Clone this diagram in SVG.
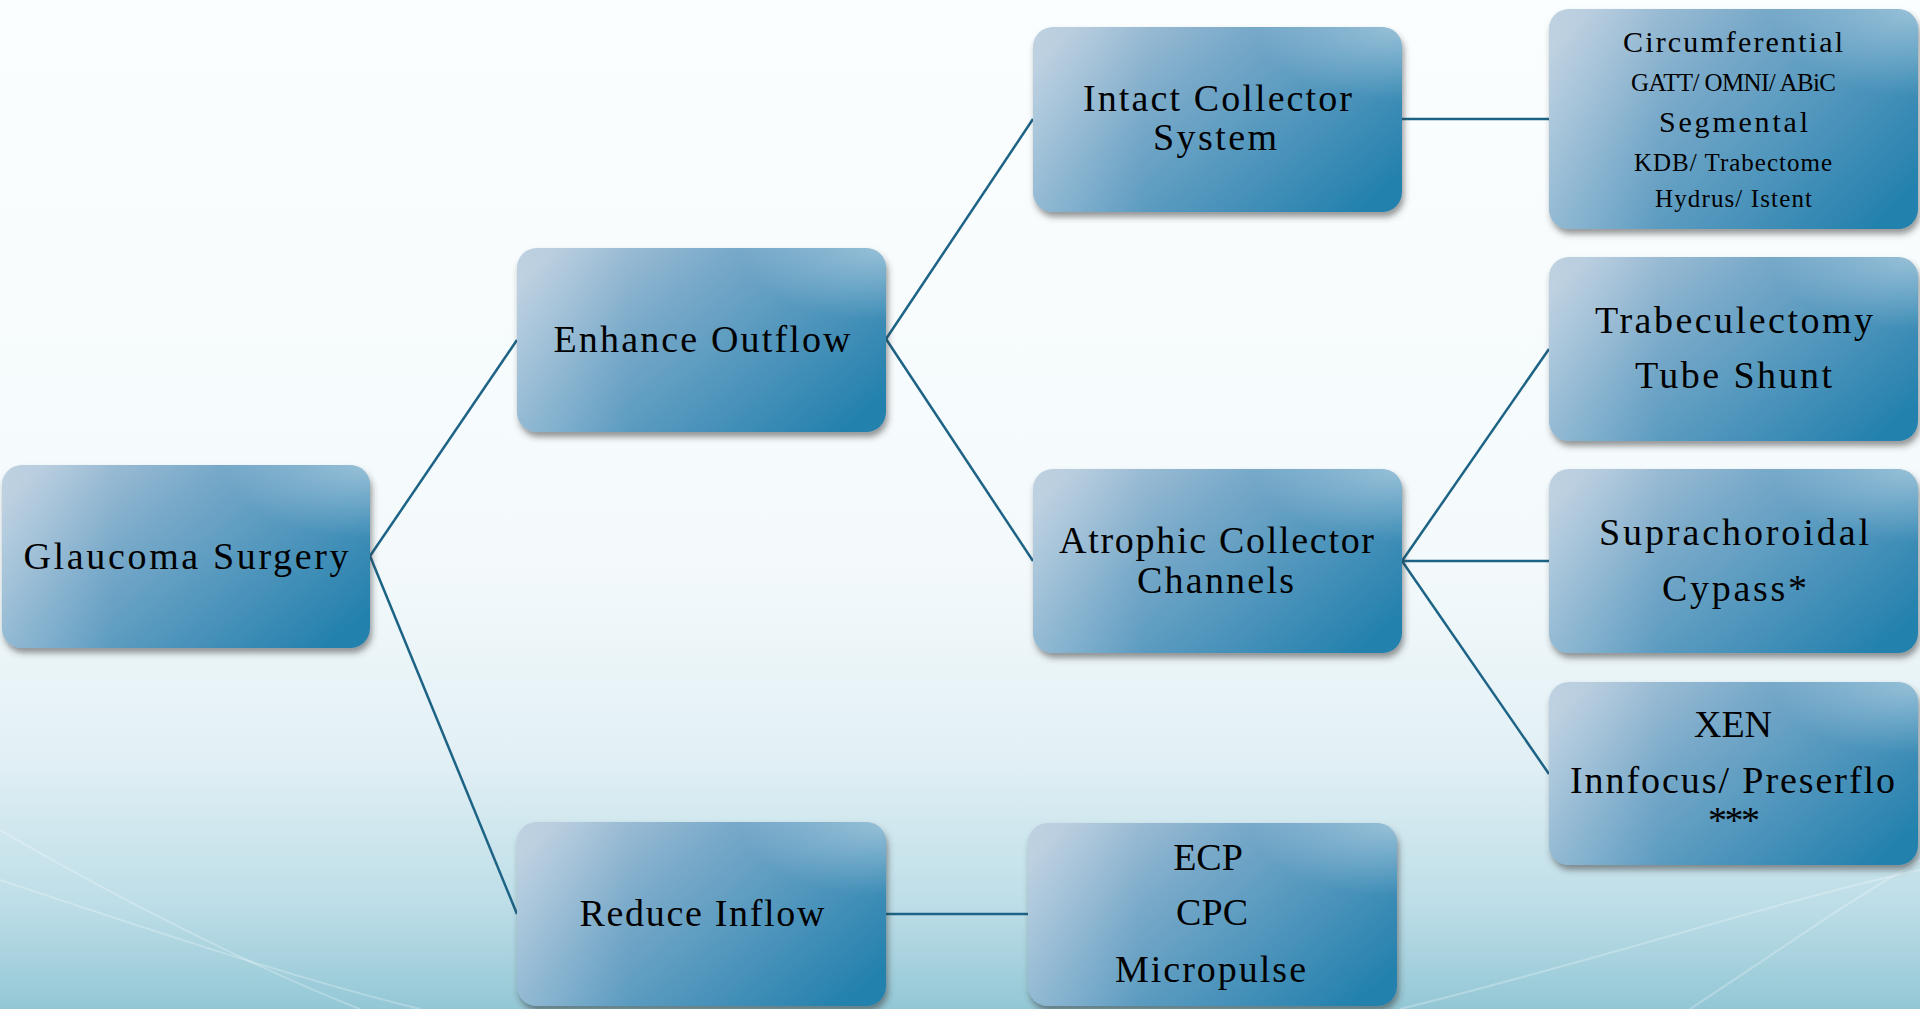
<svg xmlns="http://www.w3.org/2000/svg" width="1920" height="1009" viewBox="0 0 1920 1009">
<defs>
<linearGradient id="bg" x1="0" y1="0" x2="0" y2="1">
<stop offset="0" stop-color="#fbfeff"/>
<stop offset="0.55" stop-color="#f4fafc"/>
<stop offset="0.75" stop-color="#e2f0f5"/>
<stop offset="0.9" stop-color="#bcdde7"/>
<stop offset="1" stop-color="#93c7d5"/>
</linearGradient>
<linearGradient id="box" x1="0" y1="0.2" x2="1" y2="0.8">
<stop offset="0" stop-color="#aec6da"/>
<stop offset="0.35" stop-color="#78a9c9"/>
<stop offset="0.7" stop-color="#4b93bb"/>
<stop offset="1" stop-color="#2381ad"/>
</linearGradient>
<radialGradient id="gloss" cx="1" cy="0" r="0.4">
<stop offset="0" stop-color="#ffffff" stop-opacity="0.4"/>
<stop offset="1" stop-color="#ffffff" stop-opacity="0"/>
</radialGradient>
<linearGradient id="leftlight" x1="0" y1="0" x2="1" y2="0">
<stop offset="0" stop-color="#ffffff" stop-opacity="0.2"/>
<stop offset="0.3" stop-color="#ffffff" stop-opacity="0"/>
</linearGradient>
<filter id="shadow" x="-10%" y="-10%" width="125%" height="130%">
<feDropShadow dx="2" dy="5" stdDeviation="3" flood-color="#333" flood-opacity="0.5"/>
</filter>
<style>
.node rect.b{fill:url(#box);filter:url(#shadow)}
.node rect.g{fill:url(#gloss)}
.node rect.l{fill:url(#leftlight)}
text{font-family:"Liberation Serif","Times New Roman",serif;fill:#000;text-anchor:middle}
.big{font-size:38px}
.med{font-size:30px}
.sm{font-size:25px}
.conn line{stroke:#1d6385;stroke-width:2.5}
</style>
</defs>
<rect x="0" y="0" width="1920" height="1009" fill="url(#bg)"/>
<g id="waves" fill="none" stroke="#ffffff" stroke-opacity="0.25" stroke-width="2">
<path d="M0 880 C150 930 300 980 420 1009"/>
<path d="M0 830 C120 900 260 970 360 1009"/>
<path d="M1400 1009 C1600 960 1780 900 1920 870"/>
<path d="M1690 1009 C1780 950 1850 900 1920 860"/>
</g>
<g id="connectors" class="conn">
<line x1="370" y1="556" x2="517" y2="340"/>
<line x1="370" y1="556" x2="517" y2="914"/>
<line x1="886" y1="339" x2="1033" y2="119"/>
<line x1="886" y1="339" x2="1033" y2="561"/>
<line x1="1402" y1="119" x2="1549" y2="119"/>
<line x1="1402" y1="561" x2="1549" y2="349"/>
<line x1="1402" y1="561" x2="1549" y2="561"/>
<line x1="1402" y1="561" x2="1549" y2="774"/>
<line x1="886" y1="914" x2="1028" y2="914"/>
</g>
<g id="n-glaucoma" class="node">
<rect class="b" x="2" y="465" width="368" height="183" rx="20"/>
<rect class="l" x="2" y="465" width="368" height="183" rx="20"/>
<rect class="g" x="2" y="465" width="368" height="183" rx="20"/>
<text class="big" x="186" y="569" textLength="325" lengthAdjust="spacing">Glaucoma Surgery</text>
</g>
<g id="n-enhance" class="node">
<rect class="b" x="517" y="248" width="369" height="184" rx="20"/>
<rect class="l" x="517" y="248" width="369" height="184" rx="20"/>
<rect class="g" x="517" y="248" width="369" height="184" rx="20"/>
<text class="big" x="702" y="352" textLength="297" lengthAdjust="spacing">Enhance Outflow</text>
</g>
<g id="n-reduce" class="node">
<rect class="b" x="517" y="822" width="369" height="184" rx="20"/>
<rect class="l" x="517" y="822" width="369" height="184" rx="20"/>
<rect class="g" x="517" y="822" width="369" height="184" rx="20"/>
<text class="big" x="702" y="926" textLength="245" lengthAdjust="spacing">Reduce Inflow</text>
</g>
<g id="n-intact" class="node">
<rect class="b" x="1033" y="27" width="369" height="185" rx="20"/>
<rect class="l" x="1033" y="27" width="369" height="185" rx="20"/>
<rect class="g" x="1033" y="27" width="369" height="185" rx="20"/>
<text class="big" x="1217.5" y="111" textLength="269" lengthAdjust="spacing">Intact Collector</text>
<text class="big" x="1215" y="150" textLength="124" lengthAdjust="spacing">System</text>
</g>
<g id="n-atrophic" class="node">
<rect class="b" x="1033" y="469" width="369" height="184" rx="20"/>
<rect class="l" x="1033" y="469" width="369" height="184" rx="20"/>
<rect class="g" x="1033" y="469" width="369" height="184" rx="20"/>
<text class="big" x="1216.5" y="553" textLength="315" lengthAdjust="spacing">Atrophic Collector</text>
<text class="big" x="1215.5" y="593" textLength="157" lengthAdjust="spacing">Channels</text>
</g>
<g id="n-circ" class="node">
<rect class="b" x="1549" y="9" width="369" height="220" rx="20"/>
<rect class="l" x="1549" y="9" width="369" height="220" rx="20"/>
<rect class="g" x="1549" y="9" width="369" height="220" rx="20"/>
<text class="med" x="1733" y="52" textLength="220" lengthAdjust="spacing">Circumferential</text>
<text class="sm" x="1733.5" y="91" textLength="205" lengthAdjust="spacing">GATT/ OMNI/ ABiC</text>
<text class="med" x="1733.5" y="132" textLength="149" lengthAdjust="spacing">Segmental</text>
<text class="sm" x="1733" y="171" textLength="198" lengthAdjust="spacing">KDB/ Trabectome</text>
<text class="sm" x="1733.5" y="207" textLength="157" lengthAdjust="spacing">Hydrus/ Istent</text>
</g>
<g id="n-trab" class="node">
<rect class="b" x="1549" y="257" width="369" height="184" rx="20"/>
<rect class="l" x="1549" y="257" width="369" height="184" rx="20"/>
<rect class="g" x="1549" y="257" width="369" height="184" rx="20"/>
<text class="big" x="1734" y="333" textLength="278" lengthAdjust="spacing">Trabeculectomy</text>
<text class="big" x="1733.5" y="388" textLength="197" lengthAdjust="spacing">Tube Shunt</text>
</g>
<g id="n-supra" class="node">
<rect class="b" x="1549" y="469" width="369" height="184" rx="20"/>
<rect class="l" x="1549" y="469" width="369" height="184" rx="20"/>
<rect class="g" x="1549" y="469" width="369" height="184" rx="20"/>
<text class="big" x="1734" y="545" textLength="270" lengthAdjust="spacing">Suprachoroidal</text>
<text class="big" x="1734.5" y="601" textLength="145" lengthAdjust="spacing">Cypass*</text>
</g>
<g id="n-xen" class="node">
<rect class="b" x="1549" y="682" width="369" height="183" rx="20"/>
<rect class="l" x="1549" y="682" width="369" height="183" rx="20"/>
<rect class="g" x="1549" y="682" width="369" height="183" rx="20"/>
<text class="big" x="1733" y="737">XEN</text>
<text class="big" x="1732.5" y="793" textLength="325" lengthAdjust="spacing">Innfocus/ Preserflo</text>
<text class="big" x="1734" y="833" textLength="52" lengthAdjust="spacing">***</text>
</g>
<g id="n-ecp" class="node">
<rect class="b" x="1028" y="823" width="369" height="183" rx="20"/>
<rect class="l" x="1028" y="823" width="369" height="183" rx="20"/>
<rect class="g" x="1028" y="823" width="369" height="183" rx="20"/>
<text class="big" x="1208" y="870">ECP</text>
<text class="big" x="1212" y="925" textLength="72" lengthAdjust="spacing">CPC</text>
<text class="big" x="1210.5" y="982" textLength="191" lengthAdjust="spacing">Micropulse</text>
</g>
</svg>
